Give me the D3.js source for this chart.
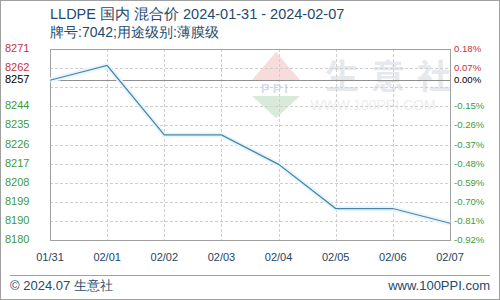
<!DOCTYPE html>
<html>
<head>
<meta charset="utf-8">
<script src="https://cdn.jsdelivr.net/npm/d3@7"></script>
<style>
  body { margin: 0; background: #fff; }
  text { font-family: "Liberation Sans", "DejaVu Sans", sans-serif; }
</style>
</head>
<body>
<svg id="chart" width="500" height="300"></svg>
<script>
// data
const dates = ['01/31', '02/01', '02/02', '02/03', '02/04', '02/05', '02/06', '02/07']
const prices = [8257, 8264, 8231, 8231, 8217, 8196, 8196, 8189]
const basePrice = 8257
const pctTicks = [0.18, 0.07, -0.04, -0.15, -0.26, -0.37, -0.48, -0.59, -0.70, -0.81, -0.92]
const priceLabels = ['8271', '8262', '', '8244', '8235', '8226', '8217', '8208', '8199', '8190', '8180']

const W = 500, H = 300
const mLeft = 50, mRight = 450, mTop = 49, mBottom = 240

let svg = d3.select('#chart')

svg.append('rect')
  .attr('x', 0.5).attr('y', 0.5)
  .attr('width', W - 1).attr('height', H - 1)
  .attr('fill', '#fff').attr('stroke', '#a0a0a0')

let x = d3.scalePoint().domain(dates).range([mLeft, mRight])
let y = d3.scaleLinear().domain([-0.92, 0.18]).range([mBottom, mTop])
let pct = p => (p / basePrice - 1) * 100

// watermark
let wm = svg.append('g').attr('opacity', 0.2)
wm.append('path').attr('d', 'M252,80 L276,52 L300,80 Z').attr('fill', '#e05050')
wm.append('path').attr('d', 'M252,96 L276,118 L300,96 Z').attr('fill', '#40a040')
wm.append('text').attr('x', 276).attr('y', 93).attr('text-anchor', 'middle')
  .attr('font-size', 13).attr('font-weight', 'bold').attr('fill', '#3060a0').attr('letter-spacing', 3).text('PPI')
wm.append('text').attr('x', 325).attr('y', 89)
  .attr('font-size', 34).attr('font-weight', 'bold').attr('fill', '#8090a8')
  .attr('letter-spacing', 12).style('font-family', '"Noto Sans CJK SC"').text('生意社')
wm.append('text').attr('x', 373).attr('y', 110).attr('text-anchor', 'middle')
  .attr('font-size', 14).attr('fill', '#a8a8a8').text('WWW.100PPI.COM')

// grid
let grid = svg.append('g')
grid.selectAll('.hg').data(pctTicks).enter().append('line')
  .attr('x1', mLeft).attr('x2', mRight)
  .attr('y1', d => Math.round(y(d)) + 0.5).attr('y2', d => Math.round(y(d)) + 0.5)
  .attr('stroke', '#cfcfcf').attr('stroke-dasharray', '3,2')
grid.selectAll('.vg').data(dates.slice(1, -1)).enter().append('line')
  .attr('y1', mTop).attr('y2', mBottom)
  .attr('x1', d => Math.round(x(d)) + 0.5).attr('x2', d => Math.round(x(d)) + 0.5)
  .attr('stroke', '#cfcfcf').attr('stroke-dasharray', '3,2')

// base line
svg.append('line')
  .attr('x1', mLeft).attr('x2', mRight)
  .attr('y1', Math.round(y(0)) + 0.5).attr('y2', Math.round(y(0)) + 0.5)
  .attr('stroke', '#909090')

svg.append('rect')
  .attr('x', mLeft + 0.5).attr('y', mTop + 0.5)
  .attr('width', mRight - mLeft).attr('height', mBottom - mTop)
  .attr('fill', 'none').attr('stroke', '#a0a0a0')

// line
let line = d3.line().x((d, i) => x(dates[i])).y(d => y(pct(d)))
svg.append('path').datum(prices).attr('d', line)
  .attr('fill', 'none').attr('stroke', '#e6f6fb').attr('stroke-width', 5)
svg.append('path').datum(prices).attr('d', line)
  .attr('fill', 'none').attr('stroke', '#4a84aa').attr('stroke-width', 1.2)

let color = v => v > 0.001 ? '#c8323c' : v < -0.001 ? '#3e9a3e' : '#000'

// left labels
let ly = svg.append('g').attr('font-size', 11)
ly.selectAll('text').data(pctTicks).enter().append('text')
  .attr('x', 5).attr('y', d => y(d) + 3)
  .attr('fill', d => color(d))
  .text((d, i) => priceLabels[i])
ly.append('text').attr('x', 5).attr('y', y(0) + 3).attr('fill', '#000').text(basePrice)

// right labels
let ry = svg.append('g').attr('font-size', 9.6).style('font-family', '"DejaVu Sans Mono", monospace')
let rticks = pctTicks.filter(d => d !== -0.04)
ry.selectAll('text').data(rticks).enter().append('text')
  .attr('x', 454).attr('y', d => y(d) + 3)
  .attr('fill', d => color(d))
  .text(d => d.toFixed(2) + '%')
ry.append('text').attr('x', 454).attr('y', y(0) + 3).attr('fill', '#000').text('0.00%')

// x labels
svg.append('g').attr('font-size', 11).attr('fill', '#1e4464')
  .selectAll('text').data(dates).enter().append('text')
  .attr('x', d => x(d)).attr('y', 261).attr('text-anchor', 'middle')
  .text(d => d)

// title
svg.append('text').attr('x', 50).attr('y', 19).attr('font-size', 14.5).attr('fill', '#1e4a6e')
  .text('LLDPE 国内 混合价 2024-01-31 - 2024-02-07')
svg.append('text').attr('x', 50).attr('y', 37).attr('font-size', 14).attr('fill', '#1e4a6e')
  .text('牌号:7042;用途级别:薄膜级')

// footer
svg.append('line').attr('x1', 10).attr('x2', 490).attr('y1', 275.5).attr('y2', 275.5).attr('stroke', '#a0a0a0')
svg.append('text').attr('x', 10).attr('y', 290).attr('font-size', 13).attr('fill', '#1e4a6e')
  .text('© 2024.07 生意社')
svg.append('text').attr('x', 490).attr('y', 290).attr('font-size', 13).attr('fill', '#1e4a6e')
  .attr('text-anchor', 'end').text('www.100PPI.com')
</script>
</body>
</html>
